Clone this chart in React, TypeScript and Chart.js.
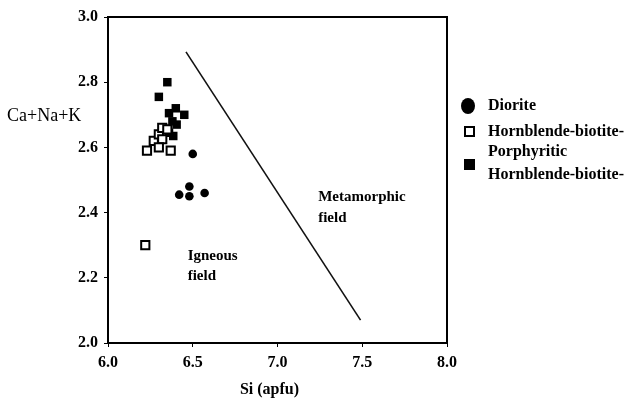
import React, { useEffect, useRef } from "react";
import { Chart, registerables } from "chart.js";

Chart.register(...registerables);

const FONT = "'Liberation Serif', 'Times New Roman', serif";

const dioriteSi = [6.5, 6.48, 6.42, 6.48, 6.57];
const dioriteCNK = [2.58, 2.48, 2.455, 2.45, 2.46];

const hbSi = [6.23, 6.27, 6.3, 6.32, 6.35, 6.32, 6.3, 6.37, 6.22];
const hbCNK = [2.59, 2.62, 2.64, 2.66, 2.655, 2.625, 2.6, 2.59, 2.3];

const porSi = [6.35, 6.3, 6.4, 6.36, 6.45, 6.38, 6.405, 6.385, 6.36];
const porCNK = [2.8, 2.755, 2.72, 2.705, 2.7, 2.68, 2.67, 2.635, 2.645];

const boundarySi = [6.46, 7.49];
const boundaryCNK = [2.893, 2.07];

const xTicks = [6.0, 6.5, 7.0, 7.5, 8.0];
const yTicks = [2.0, 2.2, 2.4, 2.6, 2.8, 3.0];

const legendLabels = ["Diorite", "Hornblende-biotite-", "Porphyritic", "Hornblende-biotite-"];

const toPts = (xs: number[], ys: number[]) => xs.map((x, i) => ({ x, y: ys[i] }));

const overlay = {
  id: "overlay",
  afterDraw(chart: any) {
    const { ctx, chartArea, scales } = chart;
    const xs = scales.x;
    const ys = scales.y;
    ctx.save();
    // box top and right
    ctx.strokeStyle = "#000";
    ctx.lineWidth = 2;
    ctx.beginPath();
    ctx.moveTo(chartArea.left - 1, chartArea.top);
    ctx.lineTo(chartArea.right, chartArea.top);
    ctx.lineTo(chartArea.right, chartArea.bottom + 1);
    ctx.stroke();

    ctx.fillStyle = "#000";
    // y title
    ctx.font = `18px ${FONT}`;
    ctx.textAlign = "left";
    ctx.textBaseline = "middle";
    ctx.fillText("Ca+Na+K", 7, 116);
    // x title
    ctx.font = `bold 16px ${FONT}`;
    ctx.textAlign = "center";
    ctx.fillText("Si (apfu)", (chartArea.left + chartArea.right) / 2 - 8, 390);

    // field annotations
    ctx.font = `bold 15px ${FONT}`;
    ctx.textAlign = "left";
    ctx.textBaseline = "alphabetic";
    const mx = xs.getPixelForValue(7.24);
    ctx.fillText("Metamorphic", mx, ys.getPixelForValue(2.435));
    ctx.fillText("field", mx, ys.getPixelForValue(2.37));
    const ix = xs.getPixelForValue(6.47);
    ctx.fillText("Igneous", ix, ys.getPixelForValue(2.255));
    ctx.fillText("field", ix, ys.getPixelForValue(2.192));

    // legend
    ctx.beginPath();
    ctx.ellipse(468, 106, 7, 8, 0, 0, Math.PI * 2);
    ctx.fill();
    ctx.lineWidth = 2;
    ctx.strokeRect(465, 127, 9, 9);
    ctx.fillRect(464, 159, 11, 11);
    ctx.font = `bold 16px ${FONT}`;
    ctx.textBaseline = "middle";
    ctx.fillText(legendLabels[0], 488, 106);
    ctx.fillText(legendLabels[1], 488, 132);
    ctx.fillText(legendLabels[2], 488, 152);
    ctx.fillText(legendLabels[3], 488, 175);
    ctx.restore();
  },
};

export default function App() {
  const ref = useRef<HTMLCanvasElement>(null);
  useEffect(() => {
    if (!ref.current) return;
    const chart = new Chart(ref.current, {
      type: "scatter",
      data: {
        datasets: [
          {
            label: "Boundary",
            type: "line",
            data: toPts(boundarySi, boundaryCNK),
            borderColor: "#111",
            borderWidth: 1.6,
            pointRadius: 0,
            showLine: true,
            fill: false,
          } as any,
          {
            label: "Diorite",
            data: toPts(dioriteSi, dioriteCNK),
            pointStyle: "circle",
            pointRadius: 4.3,
            backgroundColor: "#000",
            borderColor: "#000",
            borderWidth: 0,
          },
          {
            label: "Hornblende-biotite",
            data: toPts(hbSi, hbCNK),
            pointStyle: "rect",
            pointRadius: 5.8,
            backgroundColor: "#fff",
            borderColor: "#000",
            borderWidth: 2,
          },
          {
            label: "Porphyritic Hornblende-biotite",
            data: toPts(porSi, porCNK),
            pointStyle: "rect",
            pointRadius: 6,
            backgroundColor: "#000",
            borderColor: "#000",
            borderWidth: 0,
          },
        ],
      },
      options: {
        animation: false,
        responsive: true,
        maintainAspectRatio: false,
        layout: { padding: { left: 0, top: 17, right: 179, bottom: 0 } },
        plugins: { legend: { display: false }, tooltip: { enabled: false } },
        scales: {
          x: {
            type: "linear",
            min: 6,
            max: 8,
            afterFit: (s: any) => {
              s.height = 60;
            },
            afterBuildTicks: (s: any) => {
              s.ticks = xTicks.map((v) => ({ value: v }));
            },
            ticks: {
              color: "#000",
              font: { family: FONT, size: 16, weight: "bold" },
              padding: 6,
              callback: (v: any) => Number(v).toFixed(1),
              maxRotation: 0,
            },
            grid: { display: true, drawOnChartArea: false, drawTicks: true, tickLength: 4, color: "#000" },
            border: { display: true, color: "#000", width: 2 },
          },
          y: {
            type: "linear",
            min: 2,
            max: 3,
            afterFit: (s: any) => {
              s.width = 108;
            },
            afterBuildTicks: (s: any) => {
              s.ticks = yTicks.map((v) => ({ value: v }));
            },
            ticks: {
              color: "#000",
              font: { family: FONT, size: 16, weight: "bold" },
              padding: 6,
              callback: (v: any) => Number(v).toFixed(1),
            },
            grid: { display: true, drawOnChartArea: false, drawTicks: true, tickLength: 4, color: "#000" },
            border: { display: true, color: "#000", width: 2 },
          },
        },
      },
      plugins: [overlay],
    });
    return () => chart.destroy();
  }, []);
  return (
    <div style={{ position: "absolute", left: 0, top: 0, width: 626, height: 403, background: "#fff" }}>
      <canvas ref={ref} />
    </div>
  );
}
